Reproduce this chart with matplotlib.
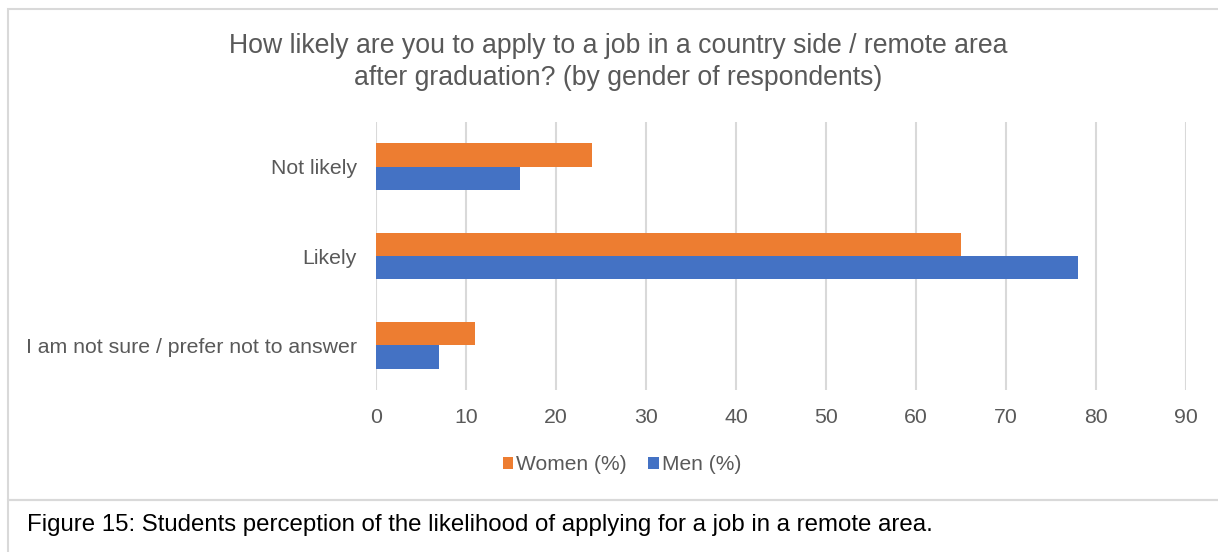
import matplotlib.pyplot as plt
from matplotlib.patches import Rectangle
import numpy as np

plt.rcParams["font.family"] = ["Liberation Sans", "DejaVu Sans"]

categories = ["Not likely", "Likely", "I am not sure / prefer not to answer"]
women_pct = [24, 65, 11]
men_pct = [16, 78, 7]
x_ticks = [0, 10, 20, 30, 40, 50, 60, 70, 80, 90]

title = ("How likely are you to apply to a job in a country side / remote area\n"
         "after graduation? (by gender of respondents)")
caption = "Figure 15: Students perception of the likelihood of applying for a job in a remote area."

W, H = 1218, 552
DPI = 100
TEXT = "#595959"
GRID = "#D9D9D9"


def px(v):
    # pixel size to points at this dpi
    return v * 72 / DPI


fig = plt.figure(figsize=(W / DPI, H / DPI), dpi=DPI)
ax = fig.add_axes([376 / W, 1 - 390 / H, (1186 - 376) / W, (390 - 122) / H])

y = np.arange(len(categories))
bar_h = 0.26
ax.barh(y - bar_h / 2, women_pct, height=bar_h, color="#ED7D31", label="Women (%)", zorder=3)
ax.barh(y + bar_h / 2, men_pct, height=bar_h, color="#4472C4", label="Men (%)", zorder=3)

ax.set_ylim(len(categories) - 0.5, -0.5)
ax.set_xlim(0, 90)
ax.set_xticks(x_ticks)
ax.set_yticks(y)
ax.set_yticklabels(categories)
ax.xaxis.grid(True, color=GRID, linewidth=1.5, zorder=0)
for side in ax.spines.values():
    side.set_visible(False)
ax.tick_params(axis="both", length=0, labelsize=px(21.3), labelcolor=TEXT)
ax.tick_params(axis="x", pad=px(18))
ax.tick_params(axis="y", pad=px(19))

fig.text(618 / W, 1 - 62 / H, title, ha="center", va="center",
         fontsize=px(26.6), color=TEXT, linespacing=1.3)

handles, labels = ax.get_legend_handles_labels()
fig.legend(handles, labels, loc="center", bbox_to_anchor=(622 / W, 1 - 465 / H),
           ncol=2, frameon=False, fontsize=px(21), labelcolor=TEXT,
           handlelength=0.5, handleheight=0.5, handletextpad=0.15, columnspacing=1.0)

# chart frame and caption box
fig.add_artist(Rectangle((8 / W, 1 - 500 / H), (W + 5 - 8) / W, (500 - 9) / H,
                         transform=fig.transFigure, fill=False, edgecolor=GRID, linewidth=1.5))
fig.add_artist(Rectangle((8 / W, -0.01), (W + 5 - 8) / W, 1 - 500 / H + 0.01,
                         transform=fig.transFigure, fill=False, edgecolor=GRID, linewidth=1.5))

fig.text(27 / W, 1 - 525 / H, caption, ha="left", va="center", fontsize=px(24), color="black")

fig.savefig("out.png", dpi=DPI)
